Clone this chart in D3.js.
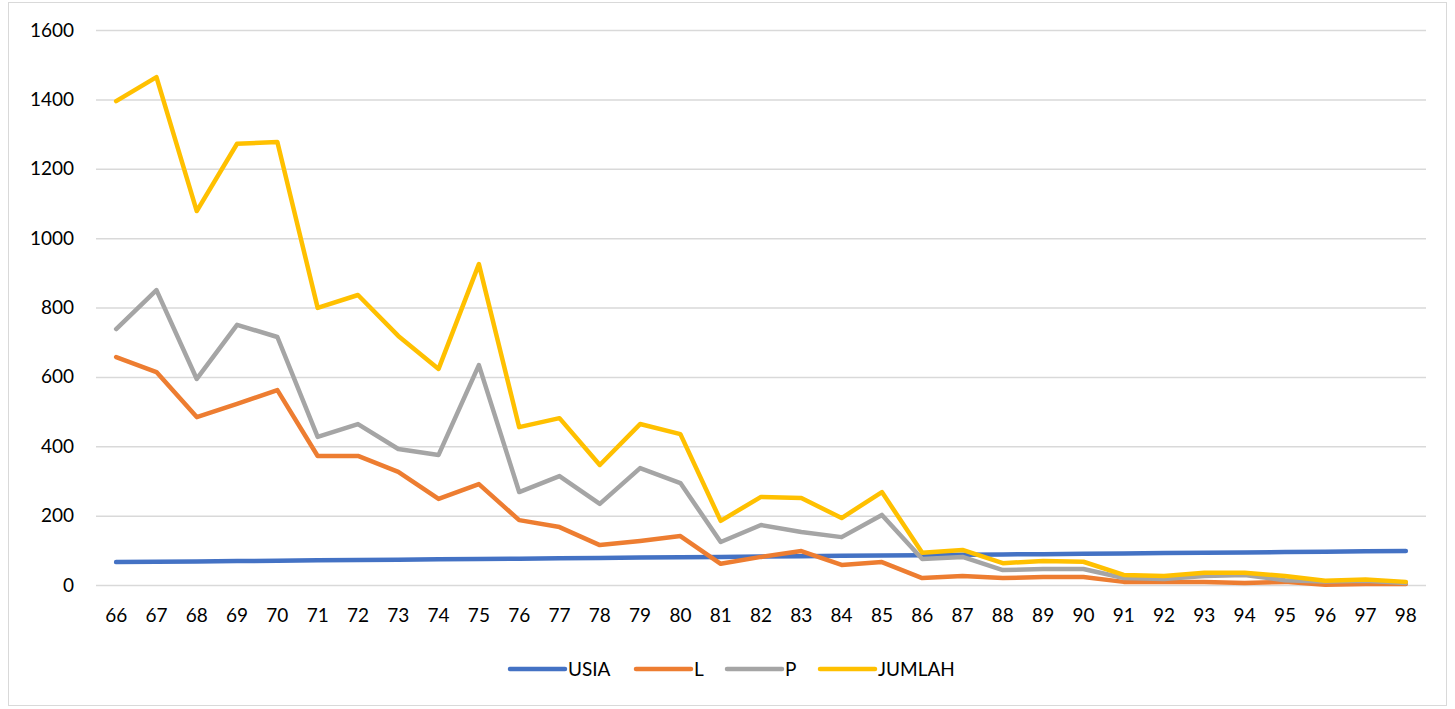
<!DOCTYPE html>
<html>
<head>
<meta charset="utf-8">
<script src="https://d3js.org/d3.v7.min.js"></script>
<style>
  body { margin: 0; background: #fff; }
  svg { display: block; font-family: Lato, "Open Sans", sans-serif; }
</style>
</head>
<body>
<div id="chartContainer"></div>
<script>
// categories (age)
var ages = [66, 67, 68, 69, 70, 71, 72, 73, 74, 75, 76, 77, 78, 79, 80, 81,
            82, 83, 84, 85, 86, 87, 88, 89, 90, 91, 92, 93, 94, 95, 96, 97, 98];

var usia = [66, 67, 68, 69, 70, 71, 72, 73, 74, 75, 76, 77, 78, 79, 80, 81,
            82, 83, 84, 85, 86, 87, 88, 89, 90, 91, 92, 93, 94, 95, 96, 97, 98];
var lakiLaki = [657, 614, 484, 522, 562, 372, 372, 326, 248, 291, 187, 167, 115, 127, 141, 61,
                81, 98, 58, 66, 20, 26, 20, 23, 23, 9, 9, 9, 6, 9, 1, 3, 3];
var perempuan = [738, 850, 594, 750, 715, 427, 464, 392, 375, 634, 268, 314, 234, 337, 294, 124,
                 173, 153, 138, 202, 75, 81, 43, 46, 46, 20, 17, 26, 29, 14, 10, 12, 6];
var jumlah = [1395, 1464, 1078, 1272, 1277, 799, 836, 718, 623, 925, 455, 481, 346, 464, 435, 185,
              254, 251, 193, 268, 93, 101, 63, 69, 67, 29, 26, 35, 35, 26, 12, 16, 9];

var yTicks = [0, 200, 400, 600, 800, 1000, 1200, 1400, 1600];

var seriesNames = ["USIA", "L", "P", "JUMLAH"];
var seriesColors = ["#4472C4", "#ED7D31", "#A5A5A5", "#FFC000"];

function init() {
    var w = 1455;
    var h = 709;
    var left = 96, right = 1426, top = 30, bottom = 585;

    var series = [usia, lakiLaki, perempuan, jumlah];

    var svg = d3.select("#chartContainer")
        .append("svg")
        .attr("width", w)
        .attr("height", h);

    // chart frame
    svg.append("rect")
        .attr("x", 8.5)
        .attr("y", 2.5)
        .attr("width", 1438)
        .attr("height", 703)
        .attr("fill", "#fff")
        .attr("stroke", "#D9D9D9")
        .attr("stroke-width", 1);

    var xScale = d3.scaleBand()
        .domain(ages)
        .range([left, right]);

    var yScale = d3.scaleLinear()
        .domain([0, 1600])
        .range([bottom, top]);

    // gridlines + y labels
    var yAxis = d3.axisLeft(yScale)
        .tickValues(yTicks)
        .tickFormat(d3.format("d"))
        .tickSize(-(right - left))
        .tickPadding(22);

    var gy = svg.append("g")
        .attr("class", "y axis")
        .attr("transform", "translate(" + left + ",0)")
        .call(yAxis);
    gy.select(".domain").remove();
    gy.selectAll("line").attr("stroke", "#D9D9D9").attr("stroke-width", 1.5);
    gy.selectAll("text")
        .attr("fill", "#000")
        .attr("font-size", "19px")
        .attr("font-family", "Lato, sans-serif");

    // x labels
    var xAxis = d3.axisBottom(xScale).tickSize(0).tickPadding(24);
    var gx = svg.append("g")
        .attr("class", "x axis")
        .attr("transform", "translate(0," + bottom + ")")
        .call(xAxis);
    gx.select(".domain").remove();
    gx.selectAll("text")
        .attr("fill", "#000")
        .attr("font-size", "19px")
        .attr("font-family", "Lato, sans-serif");

    var line = d3.line()
        .x(function (d, i) { return xScale(ages[i]) + xScale.bandwidth() / 2; })
        .y(function (d) { return yScale(d); });

    series.forEach(function (s, k) {
        svg.append("path")
            .datum(s)
            .attr("fill", "none")
            .attr("stroke", seriesColors[k])
            .attr("stroke-width", 4.5)
            .attr("stroke-linejoin", "round")
            .attr("stroke-linecap", "round")
            .attr("d", line);
    });

    // legend
    var legendX = [510, 636, 727, 820];
    var legend = svg.append("g").attr("class", "legend");
    seriesNames.forEach(function (name, k) {
        legend.append("line")
            .attr("x1", legendX[k])
            .attr("x2", legendX[k] + 55)
            .attr("y1", 669)
            .attr("y2", 669)
            .attr("stroke", seriesColors[k])
            .attr("stroke-width", 4.5)
            .attr("stroke-linecap", "round");
        legend.append("text")
            .attr("x", legendX[k] + 58)
            .attr("y", 676)
            .attr("font-size", "19px")
            .attr("fill", "#000")
            .text(name);
    });
}

window.onload = init;
</script>
</body>
</html>
